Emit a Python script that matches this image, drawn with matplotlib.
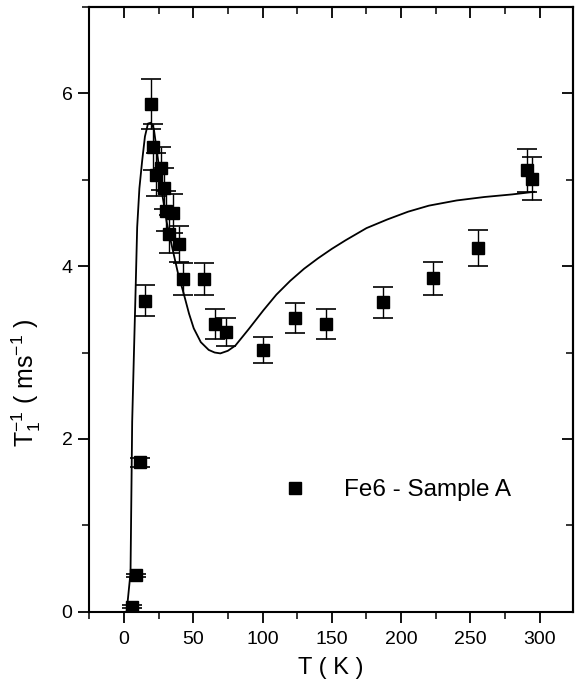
import matplotlib
matplotlib.use("Agg")
import matplotlib.pyplot as plt
from matplotlib.ticker import MultipleLocator

plt.rcParams["font.family"] = ["Liberation Sans", "DejaVu Sans"]
plt.rcParams["mathtext.fontset"] = "custom"
plt.rcParams["mathtext.rm"] = "Liberation Sans"

# measured points (T in K, 1/T1 in ms^-1, error)
temp = [6.0, 8.4, 11.5, 15.6, 19.7, 20.9, 23.3, 27.1, 29.3, 30.7, 32.9, 35.5,
        39.8, 42.7, 58.0, 66.0, 73.9, 100.3, 123.5, 145.8, 186.6, 223.0,
        255.5, 290.7, 294.3]
rate = [0.06, 0.42, 1.73, 3.60, 5.88, 5.38, 5.06, 5.13, 4.90, 4.64, 4.37, 4.61,
        4.26, 3.85, 3.85, 3.33, 3.24, 3.03, 3.40, 3.33, 3.58, 3.86,
        4.21, 5.11, 5.01]
rate_err = [0.02, 0.02, 0.05, 0.18, 0.29, 0.27, 0.25, 0.25, 0.24, 0.23, 0.22, 0.23,
            0.21, 0.19, 0.19, 0.17, 0.16, 0.15, 0.17, 0.17, 0.18, 0.19,
            0.21, 0.25, 0.25]

# fitted curve
fit_t = [2.0, 4.8, 6.0, 7.2, 8.4, 9.6, 11.2, 13.2, 15.2, 17.4, 19.5, 21.6, 24.5,
         27.6, 31.0, 34.8, 39.0, 43.2, 47.0, 50.4, 55.5, 61.2, 65.5, 69.6, 75.0,
         80.4, 90.0, 100.7, 110.0, 120.0, 130.0, 140.0, 150.0, 160.0, 175.0,
         190.0, 205.0, 220.0, 240.0, 260.0, 280.0, 296.0]
fit_rate = [0.0, 0.45, 2.20, 2.95, 3.68, 4.45, 4.90, 5.22, 5.50, 5.65, 5.66, 5.59, 5.25,
            4.84, 4.50, 4.22, 3.92, 3.68, 3.45, 3.28, 3.12, 3.03, 3.00, 2.99, 3.02,
            3.08, 3.27, 3.49, 3.67, 3.83, 3.97, 4.09, 4.20, 4.30, 4.44,
            4.54, 4.63, 4.70, 4.76, 4.80, 4.83, 4.86]

fig = plt.figure(figsize=(5.83, 6.92), dpi=100)
ax = fig.add_axes([0.153, 0.116, 0.83, 0.874])

ax.plot(fit_t, fit_rate, color="black", lw=1.3)
ax.errorbar(temp, rate, yerr=rate_err, fmt="none", ecolor="black",
            elinewidth=1.0, capsize=7, capthick=1.2)
ax.plot(temp, rate, "s", color="black", ms=8, ls="none", label="Fe6 - Sample A")

ax.set_xlim(-25, 324)
ax.set_ylim(0, 7)
ax.set_xticks([0, 50, 100, 150, 200, 250, 300])
ax.xaxis.set_minor_locator(MultipleLocator(25))
ax.yaxis.set_major_locator(MultipleLocator(2))
ax.yaxis.set_minor_locator(MultipleLocator(1))

for s in ax.spines.values():
    s.set_linewidth(1.5)

ax.tick_params(which="major", direction="out", length=8, width=1.3)
ax.tick_params(which="minor", direction="out", length=5, width=1.1)
ax.tick_params(axis="x", labelsize=14, pad=6)
ax.tick_params(axis="y", labelsize=14, pad=4)

top = ax.secondary_xaxis("top")
top.xaxis.set_major_locator(MultipleLocator(50))
top.xaxis.set_minor_locator(MultipleLocator(25))
top.tick_params(which="major", direction="in", length=8, width=1.3, labeltop=False)
top.tick_params(which="minor", direction="in", length=5, width=1.1)
top.spines["top"].set_linewidth(1.5)

right = ax.secondary_yaxis("right")
right.yaxis.set_major_locator(MultipleLocator(2))
right.yaxis.set_minor_locator(MultipleLocator(1))
right.tick_params(which="major", direction="in", length=8, width=1.3, labelright=False)
right.tick_params(which="minor", direction="in", length=5, width=1.1)
right.spines["right"].set_linewidth(1.5)

ax.set_xlabel("T ( K )", fontsize=17, labelpad=6)
ax.set_ylabel(r"T$_{\mathregular{1}}^{\mathregular{-1}}$ ( ms$^{\mathregular{-1}}$ )", fontsize=18)
ax.yaxis.set_label_coords(-0.095, 0.378)

ax.legend(loc="center left", bbox_to_anchor=(0.349, 0.201), frameon=False,
          fontsize=17.5, borderpad=0, handlelength=2, handletextpad=1.05)

fig.savefig("out.png", dpi=100)
